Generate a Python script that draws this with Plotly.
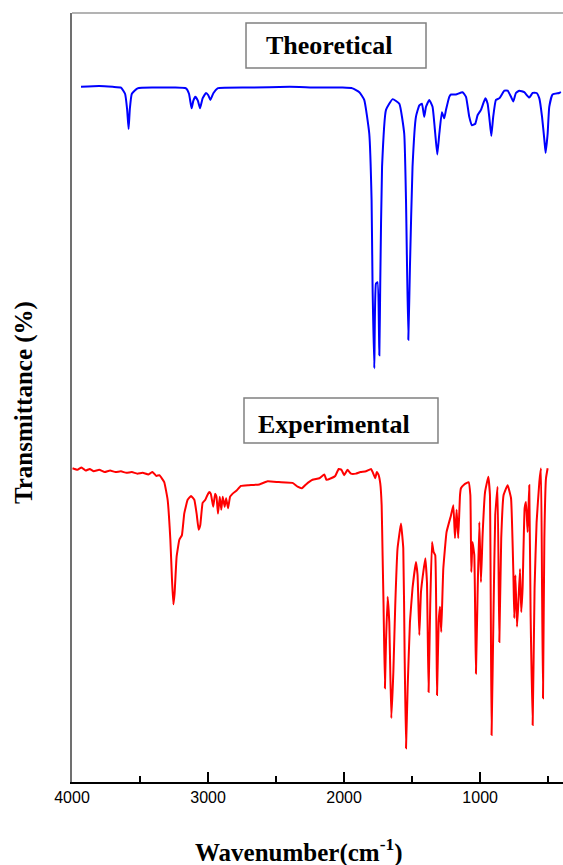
import plotly.graph_objects as go

# Theoretical (calculated) IR spectrum: wavenumber (cm-1) and transmittance (a.u.)
theo_wn = [3934, 3800, 3700, 3640, 3610, 3595, 3584, 3575, 3560, 3518, 3400, 3250,
           3162, 3140, 3121, 3108, 3094, 3075, 3059, 3040, 3015, 2998, 2983, 2960,
           2930, 2700, 2400, 2200, 2011, 1938, 1888, 1852, 1815, 1798, 1791, 1778,
           1766, 1754, 1741, 1734, 1721, 1692, 1643, 1594, 1558, 1545, 1528, 1516,
           1497, 1472, 1447, 1428, 1411, 1398, 1374, 1350, 1330, 1315, 1300, 1281,
           1264, 1251, 1227, 1214, 1178, 1129, 1104, 1080, 1060, 1036, 1019, 994,
           962, 945, 933, 918, 904, 884, 859, 822, 798, 773, 756, 737, 712, 676,
           639, 614, 585, 565, 545, 528, 519, 504, 492, 468, 419, 406]
theo_t = [90.4, 90.5, 90.4, 90.3, 89.5, 87.5, 84.9, 87.5, 89.5, 90.2, 90.3, 90.3,
          90.2, 89.5, 87.6, 88.6, 89.1, 88.6, 87.6, 88.9, 89.6, 89.3, 88.7, 89.6,
          90.2, 90.3, 90.4, 90.3, 90.3, 90.2, 89.7, 88.7, 84.3, 75.7, 64.8, 53.8,
          64.8, 65.0, 55.5, 65.3, 80.0, 87.4, 88.8, 88.2, 84.3, 75.7, 57.5, 67.0,
          80.0, 86.5, 88.0, 88.2, 86.5, 87.8, 88.7, 87.8, 84.3, 81.6, 84.3, 87.1,
          86.3, 87.4, 89.1, 89.4, 89.4, 89.7, 89.1, 86.5, 85.4, 85.6, 86.7, 87.4,
          88.9, 88.2, 86.5, 84.0, 86.5, 88.7, 88.9, 89.9, 89.9, 89.1, 88.5, 89.6,
          89.9, 89.7, 89.0, 89.6, 89.6, 88.9, 86.5, 83.5, 81.8, 84.3, 87.8, 89.4,
          89.6, 89.7]

# Experimental IR spectrum
exp_wn = [3996, 3960, 3930, 3900, 3870, 3840, 3800, 3760, 3720, 3680, 3640, 3600,
          3560, 3520, 3480, 3440, 3408, 3380, 3358, 3322, 3297, 3277, 3265, 3255,
          3246, 3231, 3211, 3192, 3175, 3150, 3125, 3101, 3084, 3069, 3057, 3040,
          3020, 3005, 2991, 2980, 2962, 2948, 2938, 2927, 2914, 2903, 2892, 2878,
          2867, 2853, 2838, 2819, 2790, 2758, 2700, 2623, 2562, 2480, 2379, 2342,
          2310, 2280, 2232, 2182, 2145, 2130, 2096, 2065, 2040, 2020, 1999, 1975,
          1950, 1913, 1880, 1839, 1802, 1790, 1771, 1760, 1748, 1734, 1724, 1717,
          1710, 1700, 1692, 1680, 1668, 1653, 1638, 1624, 1607, 1582, 1565, 1555,
          1545, 1533, 1516, 1497, 1472, 1460, 1447, 1435, 1418, 1403, 1391, 1379,
          1367, 1354, 1342, 1330, 1317, 1305, 1295, 1286, 1271, 1247, 1214, 1197,
          1185, 1173, 1161, 1148, 1141, 1117, 1085, 1072, 1065, 1056, 1043, 1031,
          1019, 1006, 994, 982, 964, 940, 928, 916, 901, 889, 872, 859, 845, 828,
          798, 773, 756, 749, 741, 729, 720, 707, 698, 688, 673, 663, 651, 639,
          629, 614, 600, 585, 565, 553, 545, 538, 528, 516, 504]
exp_t = [40.8, 40.6, 40.9, 40.5, 40.7, 40.4, 40.6, 40.3, 40.5, 40.3, 40.4, 40.2,
         40.3, 40.1, 40.2, 40.0, 40.3, 39.8, 39.9, 39.0, 36.7, 31.5, 26.3, 23.1,
         24.5, 29.3, 31.5, 32.1, 34.9, 36.7, 37.2, 36.7, 34.9, 32.8, 33.4, 36.3,
         36.7, 37.3, 37.7, 37.5, 35.8, 37.5, 37.1, 34.9, 37.1, 35.4, 37.1, 35.8,
         36.9, 35.6, 37.1, 37.5, 37.9, 38.5, 38.6, 38.7, 39.1, 39.0, 38.9, 38.4,
         38.2, 38.7, 39.3, 39.5, 40.0, 39.3, 39.5, 39.8, 40.7, 40.6, 39.9, 40.6,
         40.1, 40.1, 40.3, 40.4, 40.7, 40.3, 39.5, 40.3, 40.0, 38.8, 36.0, 29.5,
         23.0, 12.2, 18.2, 24.1, 20.8, 8.3, 14.3, 23.0, 30.4, 33.6, 30.4, 16.5,
         4.4, 12.2, 20.8, 25.2, 28.6, 26.9, 19.1, 24.7, 27.3, 29.1, 26.0, 11.7,
         23.0, 31.2, 29.9, 29.5, 11.3, 20.8, 22.8, 19.5, 27.7, 32.5, 34.7, 36.0,
         31.7, 35.4, 31.7, 37.3, 38.2, 38.7, 39.0, 37.3, 27.3, 31.2, 29.5, 14.1,
         24.3, 33.8, 26.0, 32.1, 37.7, 39.7, 37.3, 6.1, 23.0, 34.7, 38.4, 18.2, 31.7, 37.3,
         38.6, 36.9, 27.3, 21.3, 26.9, 20.2, 23.0, 27.7, 22.1, 25.2, 35.6, 36.4, 32.5, 38.6,
         21.7, 7.4, 25.2, 33.8, 39.0, 40.8, 25.2, 10.9, 31.7, 39.5, 40.8]

x_range = [4000, 391]
y_range = [0, 100]
x_ticks = [4000, 3000, 2000, 1000]
x_ticklabels = ["4000", "3000", "2000", "1000"]

serif = "Liberation Serif, Times New Roman, serif"
sans = "Liberation Sans, Arial, sans-serif"

fig = go.Figure()
fig.add_trace(go.Scatter(x=theo_wn, y=theo_t, mode="lines",
                         line=dict(color="#0000ff", width=2, shape="spline", smoothing=0.4),
                         showlegend=False))
fig.add_trace(go.Scatter(x=exp_wn, y=exp_t, mode="lines",
                         line=dict(color="#ff0000", width=2, shape="spline", smoothing=0.3),
                         showlegend=False))

fig.update_layout(
    width=563, height=865,
    margin=dict(l=72, r=0, t=13, b=83),
    paper_bgcolor="white", plot_bgcolor="white",
    xaxis=dict(range=x_range, tickvals=x_ticks, ticktext=x_ticklabels,
               ticks="inside", ticklen=10, tickwidth=1.5, tickcolor="black",
               minor=dict(dtick=500, tick0=0, ticks="inside", ticklen=6,
                          tickwidth=1.5, tickcolor="black"),
               showline=True, linecolor="black", linewidth=1.5,
               showgrid=False, zeroline=False,
               tickfont=dict(family=sans, size=16, color="black")),
    yaxis=dict(range=y_range, showticklabels=False, ticks="",
               showline=True, linecolor="#707070", linewidth=1.5,
               showgrid=False, zeroline=False),
)

# top frame line
fig.add_shape(type="line", xref="paper", yref="paper", x0=0, x1=1, y0=1, y1=1,
              line=dict(color="#9a9a9a", width=1.5))

# label boxes
fig.add_shape(type="rect", xref="paper", yref="paper",
              x0=0.3544, x1=0.721, y0=0.9285, y1=0.987,
              line=dict(color="#808080", width=1.5), fillcolor="white")
fig.add_shape(type="rect", xref="paper", yref="paper",
              x0=0.3503, x1=0.7454, y0=0.4408, y1=0.4993,
              line=dict(color="#808080", width=1.5), fillcolor="white")

fig.add_annotation(text="<b>Theoretical</b>", xref="paper", yref="paper",
                   x=0.5244, y=0.958, showarrow=False, xanchor="center", yanchor="middle",
                   font=dict(family=serif, size=26, color="black"))
fig.add_annotation(text="<b>Experimental</b>", xref="paper", yref="paper",
                   x=0.5326, y=0.4655, showarrow=False, xanchor="center", yanchor="middle",
                   font=dict(family=serif, size=26, color="black"))

fig.add_annotation(text="<b>Wavenumber(cm<sup>-1</sup>)</b>", xref="paper", yref="paper",
                   x=0.4623, y=-0.0895, showarrow=False, xanchor="center", yanchor="middle",
                   font=dict(family=serif, size=25, color="black"))
fig.add_annotation(text="<b>Transmittance (%)</b>", xref="paper", yref="paper",
                   x=-0.0978, y=0.494, showarrow=False, textangle=-90,
                   xanchor="center", yanchor="middle",
                   font=dict(family=serif, size=25, color="black"))

fig.write_html("out.html", config={"displayModeBar": False},
               post_script="document.body.style.margin='0';document.body.style.overflow='hidden';")
